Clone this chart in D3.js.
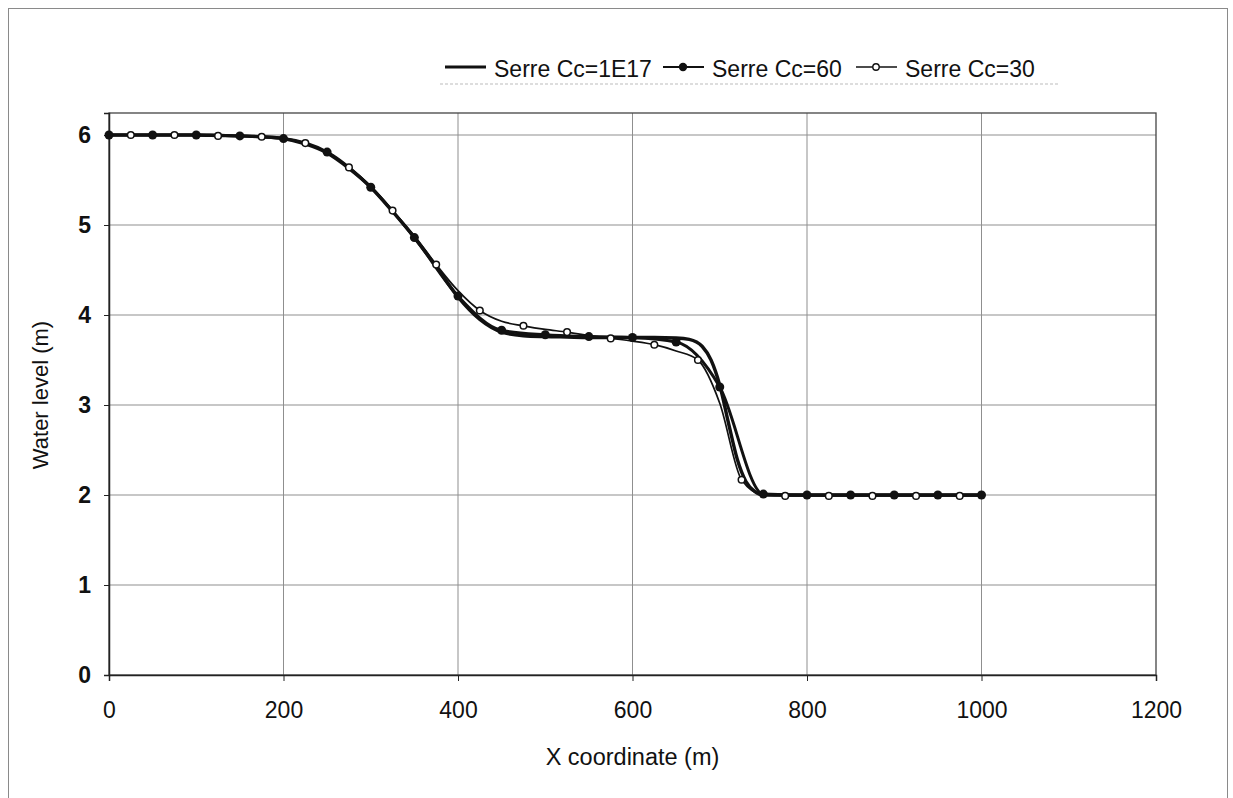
<!DOCTYPE html>
<html>
<head>
<meta charset="utf-8">
<script src="https://cdn.jsdelivr.net/npm/d3@7"></script>
<style>
  html, body { margin: 0; padding: 0; background: #fff; }
  svg { display: block; font-family: "Liberation Sans", Arial, sans-serif; }
</style>
</head>
<body>
<svg id="chart" width="1233" height="798"></svg>
<script>
// ---- Data ----
const xTicks = [0, 200, 400, 600, 800, 1000, 1200];
const yTicks = [0, 1, 2, 3, 4, 5, 6];

// Serre Cc=1E17 (plain thick line)
const x1E17 = [0, 25, 50, 75, 100, 125, 150, 175, 200, 225, 250, 275, 300, 325, 350, 375, 400, 425, 450, 475, 500, 525, 550, 575, 600, 625, 650, 665, 680, 690, 700, 710, 720, 730, 740, 750, 775, 800, 850, 900, 950, 1000];
const y1E17 = [6.0, 6.0, 6.0, 6.0, 6.0, 5.995, 5.99, 5.98, 5.96, 5.9, 5.8, 5.63, 5.42, 5.15, 4.86, 4.54, 4.2, 3.95, 3.81, 3.77, 3.76, 3.755, 3.75, 3.75, 3.75, 3.75, 3.745, 3.73, 3.65, 3.5, 3.22, 2.8, 2.4, 2.15, 2.04, 2.0, 2.0, 2.0, 2.0, 2.0, 2.0, 2.0];

// Serre Cc=60 (filled markers every 50 m)
const x60 = [0, 50, 100, 150, 200, 250, 300, 350, 400, 450, 500, 550, 600, 650, 700, 750, 800, 850, 900, 950, 1000];
const y60 = [6.0, 6.0, 6.0, 5.99, 5.96, 5.81, 5.42, 4.86, 4.21, 3.83, 3.78, 3.76, 3.75, 3.7, 3.2, 2.01, 2.0, 2.0, 2.0, 2.0, 2.0];

// Serre Cc=30 (open markers every 25 m)
const x30 = [0, 25, 50, 75, 100, 125, 150, 175, 200, 225, 250, 275, 300, 325, 350, 375, 400, 425, 450, 475, 500, 525, 550, 575, 600, 625, 650, 675, 700, 725, 750, 775, 800, 825, 850, 875, 900, 925, 950, 975, 1000];
const y30 = [6.0, 6.0, 6.0, 6.0, 6.0, 5.99, 5.99, 5.98, 5.96, 5.91, 5.8, 5.64, 5.43, 5.16, 4.88, 4.56, 4.27, 4.05, 3.93, 3.88, 3.84, 3.81, 3.77, 3.74, 3.71, 3.67, 3.6, 3.5, 3.02, 2.17, 2.0, 1.99, 1.99, 1.99, 1.99, 1.99, 1.99, 1.99, 1.99, 1.99, 1.99];

const seriesNames = ["Serre Cc=1E17", "Serre Cc=60", "Serre Cc=30"];

// ---- Layout ----
const svg = d3.select("#chart");
const pLeft = 109, pRight = 1156, pTop = 113, pBottom = 675;
const x = d3.scaleLinear().domain([0, 1200]).range([pLeft, pRight]);
const yMax = (pBottom - pTop) / 90;
const y = d3.scaleLinear().domain([0, yMax]).range([pBottom, pTop]);

// outer frame
svg.append("rect").attr("x", 8.5).attr("y", 8.5).attr("width", 1219).attr("height", 800)
  .attr("fill", "#fff").attr("stroke", "#8a8a8a").attr("stroke-width", 1);

// gridlines
const grid = svg.append("g");
grid.selectAll("line.v").data(xTicks.filter(d => d > 0 && d < 1200)).join("line")
  .attr("class", "v")
  .attr("x1", d => x(d)).attr("x2", d => x(d)).attr("y1", pTop).attr("y2", pBottom)
  .attr("stroke", "#8f8f8f").attr("stroke-width", 1);
grid.selectAll("line.h").data(yTicks.filter(d => d > 0)).join("line")
  .attr("class", "h")
  .attr("x1", pLeft).attr("x2", pRight).attr("y1", d => y(d)).attr("y2", d => y(d))
  .attr("stroke", "#8f8f8f").attr("stroke-width", 1);

// plot border
svg.append("rect").attr("x", pLeft).attr("y", pTop).attr("width", pRight - pLeft).attr("height", pBottom - pTop)
  .attr("fill", "none").attr("stroke", "#444").attr("stroke-width", 1.3);

// axes
const xAxis = d3.axisBottom(x).tickValues(xTicks).tickSize(6).tickPadding(21).tickFormat(d3.format("d"));
const gx = svg.append("g").attr("transform", `translate(0,${pBottom})`).call(xAxis);
gx.select(".domain").attr("stroke", "#222").attr("stroke-width", 1.5);
gx.selectAll(".tick line").attr("stroke", "#222");
gx.selectAll(".tick text").attr("font-size", 23).attr("fill", "#111").attr("font-family", "Liberation Sans, Arial, sans-serif");

const yAxis = d3.axisLeft(y).tickValues(yTicks).tickSize(5).tickPadding(13).tickFormat(d3.format("d"));
const gy = svg.append("g").attr("transform", `translate(${pLeft},0)`).call(yAxis);
gy.select(".domain").attr("stroke", "#222").attr("stroke-width", 1.5);
gy.selectAll(".tick line").attr("stroke", "#222");
gy.selectAll(".tick text").attr("font-size", 23).attr("font-weight", "bold").attr("fill", "#111")
  .attr("font-family", "Liberation Sans, Arial, sans-serif");

// axis titles
svg.append("text").attr("x", (pLeft + pRight) / 2).attr("y", 765).attr("text-anchor", "middle")
  .attr("font-size", 23.5).attr("fill", "#111").text("X coordinate (m)");
svg.append("text").attr("transform", `translate(48,395) rotate(-90)`)
  .attr("text-anchor", "middle").attr("font-size", 22).attr("fill", "#111").text("Water level (m)");

// lines
const line = d3.line().x(d => x(d[0])).y(d => y(d[1])).curve(d3.curveMonotoneX);
const d1 = x1E17.map((v, i) => [v, y1E17[i]]);
const d60 = x60.map((v, i) => [v, y60[i]]);
const d30 = x30.map((v, i) => [v, y30[i]]);

svg.append("path").attr("d", line(d30)).attr("fill", "none").attr("stroke", "#111").attr("stroke-width", 1.7);
svg.append("path").attr("d", line(d1)).attr("fill", "none").attr("stroke", "#111").attr("stroke-width", 3.4);
svg.append("path").attr("d", line(d60)).attr("fill", "none").attr("stroke", "#111").attr("stroke-width", 3);

svg.append("g").selectAll("circle").data(d60).join("circle")
  .attr("cx", d => x(d[0])).attr("cy", d => y(d[1])).attr("r", 4.5).attr("fill", "#111");
svg.append("g").selectAll("circle").data(d30.filter(d => d[0] % 50 !== 0)).join("circle")
  .attr("cx", d => x(d[0])).attr("cy", d => y(d[1])).attr("r", 3.3)
  .attr("fill", "#fff").attr("stroke", "#111").attr("stroke-width", 1.5);

// legend
const lg = svg.append("g");
const legY = 67;
const items = [
  { name: seriesNames[0], x0: 445, type: "none", w: 3.2 },
  { name: seriesNames[1], x0: 663, type: "filled", w: 2.2 },
  { name: seriesNames[2], x0: 856, type: "open", w: 1.6 }
];
items.forEach(it => {
  lg.append("line").attr("x1", it.x0).attr("x2", it.x0 + 41).attr("y1", legY).attr("y2", legY)
    .attr("stroke", "#111").attr("stroke-width", it.w);
  if (it.type === "filled") lg.append("circle").attr("cx", it.x0 + 20).attr("cy", legY).attr("r", 4.2).attr("fill", "#111");
  if (it.type === "open") lg.append("circle").attr("cx", it.x0 + 20).attr("cy", legY).attr("r", 3.2)
    .attr("fill", "#fff").attr("stroke", "#111").attr("stroke-width", 1.4);
  lg.append("text").attr("x", it.x0 + 49).attr("y", 77).attr("font-size", 23).attr("fill", "#111").text(it.name);
});
lg.append("line").attr("x1", 440).attr("x2", 1060).attr("y1", 84).attr("y2", 84)
  .attr("stroke", "#bbb").attr("stroke-width", 1).attr("stroke-dasharray", "3,2");
</script>
</body>
</html>
